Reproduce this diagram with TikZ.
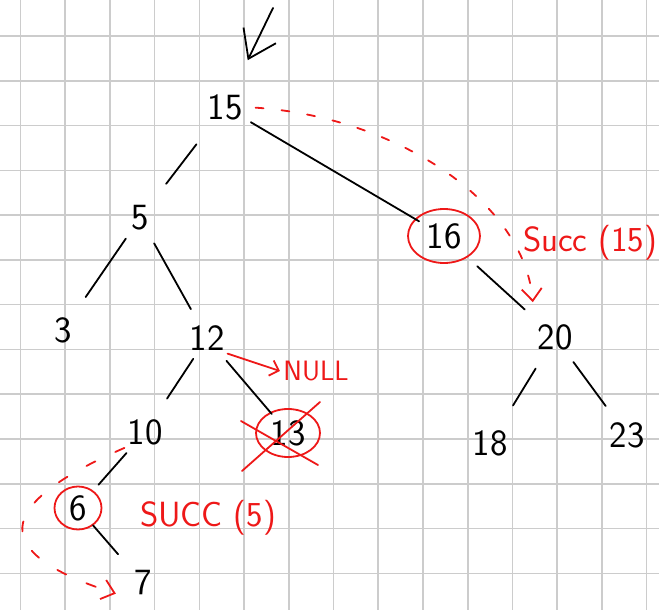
\documentclass[tikz,border=0pt]{standalone}
\usepackage{tikz}
\usetikzlibrary{arrows.meta,shapes.geometric}
\definecolor{gridgray}{RGB}{204,204,204}
\definecolor{penred}{RGB}{238,24,24}

\begin{document}
\begin{tikzpicture}[x=1pt, y=-1pt,
  num/.style={font=\sffamily\fontsize{37}{40}\selectfont, inner sep=3pt},
  marked/.style={ellipse, draw=penred, line width=1.8pt, inner sep=0pt},
  note/.style={text=penred, font=\sffamily\fontsize{35}{38}\selectfont},
  gridline/.style={draw=gridgray, line width=1.6pt},
  edge/.style={line width=1.8pt, line cap=round},
  redline/.style={draw=penred, line width=1.8pt, line cap=round},
  succ/.style={redline, dash pattern=on 8pt off 18pt,
               -{Straight Barb[length=12pt,width=20pt]}}]
% paper
\fill[white] (0,0) rectangle (659,610);
\useasboundingbox (0,0) rectangle (659,610);
\foreach \gx in {0,...,14}
  \draw[gridline] ({20.5+44.72*\gx},0) -- ({20.5+44.72*\gx},610);
\foreach \gy in {0,...,12}
  \draw[gridline] (0,{36+44.78*\gy}) -- (659,{36+44.78*\gy});

% tree
\node[num] (n15) at (225,107) {15};
\node[num] (n5)  at (140,218) {5};
\node[num] (n3)  at (63,330)  {3};
\node[num] (n12) at (207,338) {12};
\node[num] (n10) at (145,432) {10};
\node[num, marked, minimum width=64pt, minimum height=48pt] (n13) at (288,433) {13};
\node[num, marked, minimum width=47pt, minimum height=43pt] (n6) at (78,508) {6};
\node[num] (n7)  at (143,583) {7};
\node[num, marked, minimum width=72pt, minimum height=54pt] (n16) at (444,236) {16};
\node[num] (n20) at (555,337) {20};
\node[num] (n18) at (490,443) {18};
\node[num] (n23) at (627,435) {23};

\coordinate (entry) at (273,8);
\draw[edge, -{Straight Barb[length=26pt,width=36pt]}, shorten >=52pt] (entry) -- (n15.center);

\draw[edge, shorten <=47pt, shorten >=43pt] (n15.center) -- (n5.center);
\draw[edge, shorten <=30pt, shorten >=29pt] (n15.center) -- (n16.center);
\draw[edge, shorten <=25pt, shorten >=40pt] (n5.center) -- (n3.center);
\draw[edge, shorten <=29pt, shorten >=33pt] (n5.center) -- (n12.center);
\draw[edge, shorten <=25pt, shorten >=40pt] (n12.center) -- (n10.center);
\draw[edge, shorten <=30pt, shorten >=25pt] (n12.center) -- (n13.center);
\draw[edge, shorten <=28pt, shorten >=31pt] (n10.center) -- (n6.center);
\draw[edge, shorten <=23pt, shorten >=38pt] (n6.center) -- (n7.center);
\draw[edge, shorten <=45pt, shorten >=41pt] (n16.center) -- (n20.center);
\draw[edge, shorten <=37pt, shorten >=44pt] (n20.center) -- (n18.center);
\draw[edge, shorten <=31pt, shorten >=36pt] (n20.center) -- (n23.center);

% notes in red
\node[note] (succa) at (590,243) {Succ (15)};
\node[note] (succb) at (208,518) {SUCC (5)};
\node[note, font=\sffamily\fontsize{28}{30}\selectfont] (nul) at (316,371) {NULL};

\draw[redline, -{Straight Barb[length=8pt,width=16pt]}] (n12.south east) -- (nul.west);
\draw[redline] ([shift={(-46,38)}]n13.center) -- ([shift={(32,-31)}]n13.center);
\draw[redline] ([shift={(-47,-12)}]n13.center) -- ([shift={(30,32)}]n13.center);

\draw[succ, shorten <=10pt, shorten >=19pt]
  (n15.east) .. controls +(150,10) and +(-10,-120) .. (n20.north west);
\draw[succ, dash pattern=on 10pt off 22pt, shorten >=16pt]
  (n10.south west) .. controls +(-150,65) and +(-125,-40) .. (n7.south west);
\end{tikzpicture}
\end{document}
